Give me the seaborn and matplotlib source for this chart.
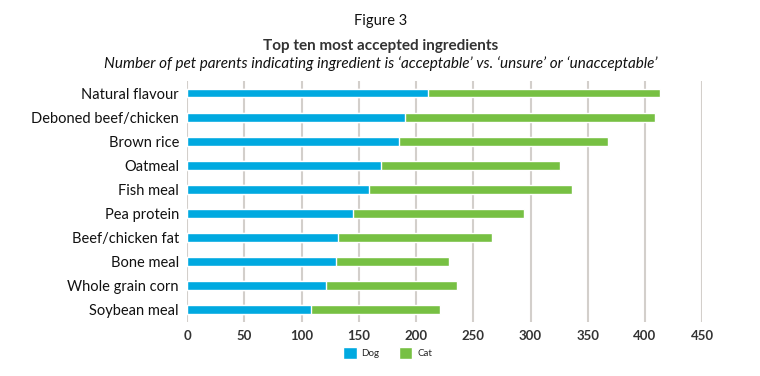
import pandas as pd
import matplotlib
matplotlib.use("Agg")
import matplotlib.pyplot as plt
import seaborn as sns
from matplotlib.patches import Patch

# données
ingredients = ["Natural flavour", "Deboned beef/chicken", "Brown rice", "Oatmeal",
               "Fish meal", "Pea protein", "Beef/chicken fat", "Bone meal",
               "Whole grain corn", "Soybean meal"]
dog = [210, 190, 185, 169, 159, 145, 132, 130, 121, 108]
cat = [203, 219, 183, 157, 177, 149, 134, 99, 115, 113]
x_ticks = [0, 50, 100, 150, 200, 250, 300, 350, 400, 450]

BLUE = "#00A9E0"
GREEN = "#77C043"


def main():
    df = pd.DataFrame({"ingredient": ingredients, "dog": dog, "cat": cat})
    df["total"] = df["dog"] + df["cat"]

    sns.set_style("white")
    plt.rcParams["font.family"] = ["Lato", "DejaVu Sans"]

    fig = plt.figure(figsize=(7.6, 3.76), dpi=100)
    ax = fig.add_axes([0.2464, 0.1436, 0.6776, 0.641])

    sns.barplot(data=df, x="total", y="ingredient", color=GREEN, width=0.37,
                saturation=1, ax=ax, zorder=3)
    sns.barplot(data=df, x="dog", y="ingredient", color=BLUE, width=0.37,
                saturation=1, ax=ax, zorder=4)

    ax.set_xlim(0, 450)
    ax.set_ylim(9.5, -0.5)
    ax.set_xticks(x_ticks)
    ax.set_xticklabels([str(t) for t in x_ticks], fontsize=9.5, fontweight="bold", color="#333333")
    ax.tick_params(axis="y", labelsize=10.5, colors="#111111", length=0, pad=6)
    ax.tick_params(axis="x", length=0, pad=6)
    ax.set_xlabel("")
    ax.set_ylabel("")
    ax.xaxis.grid(True, color="#D3CFCB", linewidth=1.5, zorder=0)
    ax.set_axisbelow(True)
    for s in ax.spines.values():
        s.set_visible(False)

    handles = [Patch(facecolor=BLUE, label="Dog"), Patch(facecolor=GREEN, label="Cat")]
    fig.legend(handles=handles, loc="center", bbox_to_anchor=(0.51, 0.061), ncol=2,
               frameon=False, fontsize=7, handlelength=1.4, handleheight=1.4,
               columnspacing=2.0, handletextpad=0.5)

    fig.text(0.501, 0.945, "Figure 3", ha="center", va="center", fontsize=10.5, color="#111111")
    fig.text(0.501, 0.878, "Top ten most accepted ingredients", ha="center", va="center",
             fontsize=11, fontweight="bold", color="#333333")
    fig.text(0.501, 0.830,
             "Number of pet parents indicating ingredient is \u2018acceptable\u2019 vs. \u2018unsure\u2019 or \u2018unacceptable\u2019",
             ha="center", va="center", fontsize=11, style="italic", color="#111111")

    fig.savefig("out.png", dpi=100, facecolor="white")


if __name__ == "__main__":
    main()
